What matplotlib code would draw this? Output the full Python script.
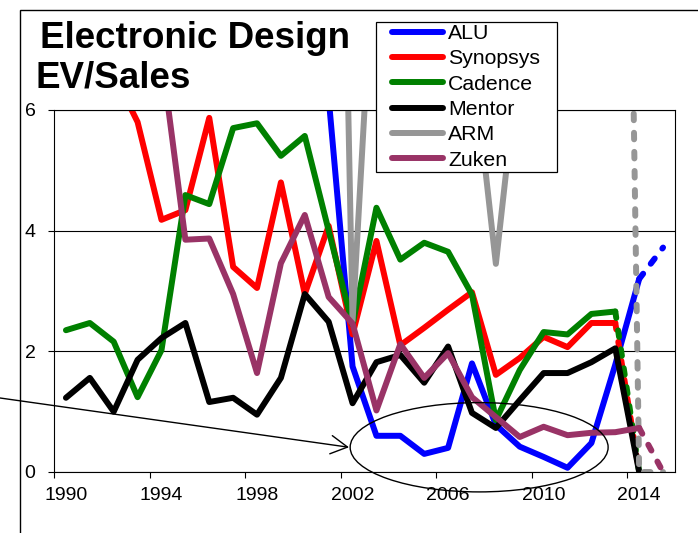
import matplotlib
matplotlib.use("Agg")
import matplotlib.pyplot as plt
from matplotlib.patches import Rectangle, Ellipse
import numpy as np

# ==========================================
# DATA
# ==========================================

nan = np.nan

years = list(range(1990, 2016))
tick_years = [1990, 1994, 1998, 2002, 2006, 2010, 2014]

alu = [nan, nan, nan, nan, nan, nan, nan, nan, nan, nan, nan,
       6.2, 1.75, 0.6, 0.6, 0.3, 0.4, 1.8, 0.78, 0.42, 0.25, 0.07, 0.48, 1.78, 3.2, 3.72]
synopsys = [nan, nan, 6.6, 5.8, 4.18, 4.34, 5.87, 3.4, 3.05, 4.8, 2.95,
            4.08, 2.28, 3.83, 2.1, 2.39, 2.69, 2.98, 1.61, 1.89, 2.24, 2.07, 2.47, 2.47, 0.0, nan]
cadence = [2.35, 2.47, 2.16, 1.24, 2.02, 4.59, 4.44, 5.7, 5.78, 5.24, 5.57,
           4.0, 2.44, 4.38, 3.52, 3.8, 3.65, 2.94, 0.86, 1.69, 2.32, 2.28, 2.62, 2.66, 0.0, nan]
mentor = [1.23, 1.56, 1.0, 1.86, 2.22, 2.47, 1.16, 1.23, 0.95, 1.56, 2.95,
          2.49, 1.14, 1.82, 1.94, 1.48, 2.08, 0.98, 0.73, 1.19, 1.64, 1.64, 1.82, 2.05, 0.0, nan]
arm = [nan, nan, nan, nan, nan, nan, nan, nan, nan, nan, nan,
       22.0, 2.5, 9.5, 10.0, 9.0, 8.0, 7.0, 3.45, 7.0, 8.0, 9.0, 10.0, 26.0, 0.0, 0.0]
zuken = [nan, nan, nan, nan, 6.9, 3.85, 3.87, 2.95, 1.64, 3.46, 4.26,
         2.9, 2.46, 1.02, 2.12, 1.56, 1.97, 1.24, 0.91, 0.58, 0.75, 0.61, 0.65, 0.66, 0.73, 0.0]

# nama seri, data, warna, tahun mulai garis putus-putus (None = tidak ada)
series = [
    ("ALU", alu, "#0000FF", 2014),
    ("Synopsys", synopsys, "#FF0000", 2013),
    ("Cadence", cadence, "#008000", 2013),
    ("Mentor", mentor, "#000000", None),
    ("ARM", arm, "#969696", 2013),
    ("Zuken", zuken, "#993366", 2014),
]

# ==========================================
# FIGURE
# ==========================================

plt.rcParams["font.family"] = ["Liberation Sans", "DejaVu Sans"]

W, H = 698, 533
fig = plt.figure(figsize=(W / 100, H / 100), dpi=100)
ax = fig.add_axes([54 / W, 1 - 472 / H, 621 / W, 362 / H])

LW = 4.3

for name, values, color, dash_from in series:
    x = np.array(years)
    y = np.array(values, dtype=float)
    if dash_from is None:
        ax.plot(x, y, color=color, lw=LW, solid_capstyle="round",
                solid_joinstyle="round", label=name)
    else:
        k = years.index(dash_from)
        ax.plot(x[:k + 1], y[:k + 1], color=color, lw=LW, solid_capstyle="round",
                solid_joinstyle="round", label=name)
        ax.plot(x[k:], y[k:], color=color, lw=LW, dashes=(1.1, 2.1),
                dash_capstyle="round")

# ==========================================
# SUMBU
# ==========================================

ax.set_xlim(1989.5, 2015.5)
ax.set_ylim(0, 6)

ax.set_xticks([t - 0.5 for t in tick_years])
ax.set_xticklabels([])
ax.set_xticks(tick_years, minor=True)
ax.set_xticklabels([str(t) for t in tick_years], minor=True)
ax.tick_params(axis="x", which="major", direction="out", length=4.3, width=0.8)
ax.tick_params(axis="x", which="minor", length=0, pad=11, labelsize=14)

ax.set_yticks([0, 2, 4, 6])
ax.tick_params(axis="y", direction="out", length=4.3, width=0.8, pad=9, labelsize=14)

ax.grid(axis="y", color="black", lw=0.8)
for side in ["left", "right", "top", "bottom"]:
    ax.spines[side].set_color("black")
    ax.spines[side].set_linewidth(0.8)

# ==========================================
# JUDUL, LEGEND, ANOTASI
# ==========================================

fig.text(40 / W, 1 - 48 / H, "Electronic Design", fontsize=26.5, fontweight="bold",
         va="baseline", ha="left")
fig.text(35 / W, 1 - 88 / H, "EV/Sales", fontsize=26.5, fontweight="bold",
         va="baseline", ha="left")

# kotak legend digambar sendiri supaya posisi isi bisa diatur
fig.patches.append(Rectangle((376 / W, 1 - 172 / H), 181 / W, 150 / H,
                             transform=fig.transFigure, facecolor="white",
                             edgecolor="black", lw=0.9, zorder=4))

handles, labels = ax.get_legend_handles_labels()
leg = fig.legend(handles, labels, loc="upper left",
                 bbox_to_anchor=(392 / W, 1 - 24 / H), borderaxespad=0,
                 fontsize=15.3, frameon=False, borderpad=0,
                 labelspacing=0.3, handlelength=2.4, handletextpad=0.25)
leg.set_zorder(6)
for line in leg.get_lines():
    line.set_linewidth(LW)
    line.set_solid_capstyle("round")

ax.add_patch(Ellipse((2007.3, 0.41), 10.8, 1.48, fill=False, edgecolor="black",
                     lw=1.0, clip_on=False, zorder=5))

ax.annotate("", xy=(2001.85, 0.41), xycoords="data",
            xytext=(-0.01, 1 - 397 / H), textcoords="figure fraction",
            arrowprops=dict(arrowstyle="->,head_length=0.6,head_width=0.33",
                            color="black", lw=1.0, mutation_scale=20,
                            shrinkA=0, shrinkB=0),
            annotation_clip=False)

fig.patches.append(Rectangle((20 / W, -0.1), 1.2, 1.1 - 10 / H, transform=fig.transFigure,
                             fill=False, edgecolor="black", lw=1.0))

plt.savefig("out.png", dpi=100)
plt.close()
